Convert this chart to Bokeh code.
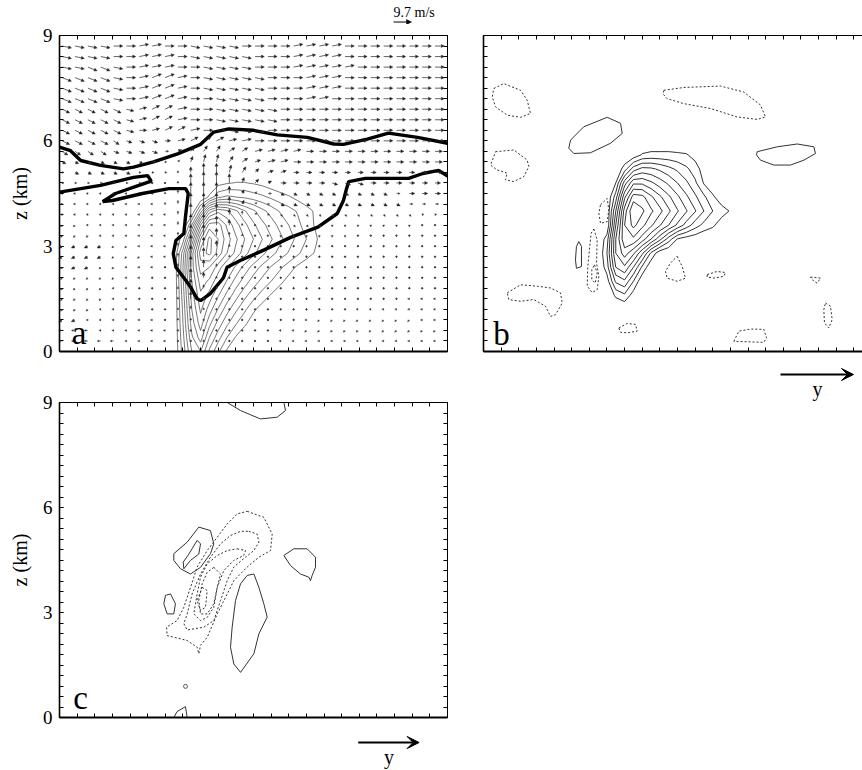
import numpy as np
from bokeh.plotting import figure
from bokeh.models import (LinearAxis, FixedTicker, Arrow, NormalHead, VeeHead,
                          Label, ColumnDataSource, Range1d)
from bokeh.layouts import row, column
from bokeh.embed import file_html
from bokeh.resources import INLINE

SERIF = "Liberation Serif"

# ---------------- axes ----------------
Z_TICK_LABELS = [0, 3, 6, 9]
Z_MINOR = [round(0.3 * k, 1) for k in range(31)]
Y_TICKS = list(range(0, 45, 2))
Y_MAX = 44.0          # horizontal extent (km) of panels a, c
Y_MAX_B = 42.98       # visible part of panel b
Z_MAX = 9.0

# ---------------- panel a: wind vectors ----------------
VEC_REF_MS = 9.7
VEC_REF_TEXT = "9.7 m/s"
ARROW_X0 = 0.306
ARROW_DX = 1.458
ARROW_ROWS_Z = [8.7, 8.4, 8.1, 7.8, 7.5, 7.2, 6.9, 6.6, 6.3, 6.0, 5.7, 5.4, 5.1, 4.8,
                4.5, 4.2, 3.9, 3.6, 3.3, 3.0, 2.7, 2.4, 2.1, 1.8, 1.5, 1.2, 0.9, 0.6, 0.3]
U_A = [
    [5] * 30,
    [5] * 30,
    [5] * 30,
    [5] * 30,
    [5] * 30,
    [5] * 30,
    [4, 4, 4, 4, 4, 4, 4, 4, 4] + [5] * 21,
    [4, 4, 4, 4, 4, 4, 4, 4, 4] + [5] * 21,
    [4, 4, 4, 4, 4, 4, 4, 4, 4, 4] + [5] * 20,
    [4, 4, 4, 4, 3, 3, 3, 3, 3, 4, 4, 4, 4, 4] + [5] * 16,
    [3, 3, 3, 3, 3, 3, 3, 3, 2, 2, 2, 2, 2, 3, 3] + [4] * 15,
    [2, 2, 2, 2, 2, 2, 2, 2, 1, 1, 1, 1, 1, 2, 3, 3] + [4] * 14,
    [1, 2, 2, 2, 2, 2, 1, 1, 1, 0, 0, 0, 0, 1, 2, 2] + [3] * 13 + [4],
    [1, 1, 1, 1, 1, 1, 1, 0, 0, 0, 0, 0, 0, 0, 1, 2, 2] + [3] * 13,
    [0, -1, -1, -1, -1, -1, 0, 0, 0, 0, 0, 0, 0, 0, 1, 1] + [2] * 11 + [3, 3, 3],
    [-1] * 8 + [0, 0, 0, 0, 0, 0, 1, 1, 1] + [2] * 13,
    [-1] * 9 + [0, 0, 0, 0, 0, 0] + [1] * 15,
    [-1] * 9 + [0] * 7 + [1, 1, 1, 1, 1] + [0] * 9,
    [-1] * 9 + [0] * 21,
    [-2, -2, -2, -2, -1, -1, -1, -1, -1] + [0] * 21,
    [-2, -2, -2, -2, -1, -1, -1, -1, -1] + [0] * 21,
    [-1, -2, -2, -1, -1, -1, -1, -1] + [0] * 22,
    [-1] * 7 + [0] * 23,
    [-1] * 6 + [0] * 24,
    [-1] * 6 + [0] * 21 + [-1] * 3,
    [-1] * 7 + [0] * 16 + [-1] * 7,
    [-2, -2, -1, -1, -1, -1, -1, -1] + [0] * 11 + [-1] * 11,
    [-2, -2, -2, -1, -1, -1, -1, -1, -1] + [0] * 8 + [-1] * 13,
    [-2, -2, -2, -2, -2, -1, -1, -1, -1] + [0] * 8 + [-1] * 13,
]
W_A = [
    [-1, -1, -1, -1, 0, 0, 1, 1, 0, 0, -1, -1, -1, -1, 0, 0, 0, 0, 1, 1, 1, 1, 0, 0, 0, 0, 0, 0, 0, 0],
    [-1, -1, -1, -1, 0, 0, 1, 1, 1, 0, -1, -1, -1, -1, -1, 0, 0, 0, 1, 1, 1, 1, 0, 0, 0, 0, 0, 0, 0, 0],
    [-1, -1, -2, -2, -1, 0, 1, 1, 1, 0, 0, -1, -1, -1, -1, 0, 0, 0, 1, 1, 1, 1, 1, 0, 0, 0, 0, 0, 0, 0],
    [-2, -2, -2, -2, -1, 0, 1, 2, 2, 1, 0, -1, -1, -1, -1, -1, 0, 0, 0, 1, 1, 1, 0, 0, 0, 0, 0, 0, 0, 0],
    [-2, -2, -2, -2, -1, 0, 1, 2, 2, 1, 0, -1, -1, -1, -1, -1, 0, 0, 0, 1, 1, 1, 0, 0, 0, 0, 0, 0, 0, 0],
    [-2, -2, -2, -2, -1, 0, 1, 2, 2, 1, 0, 0, -1, -1, -1, -1, 0, 0, 0, 1, 1, 0, 0, 0, 0, 0, 0, 0, 0, 0],
    [-2, -2, -2, -2, -2, -1, 1, 2, 2, 1, 0, 0, -1, -1, -1, -1, -1] + [0] * 13,
    [-2, -2, -2, -2, -2, -1, 1, 2, 2, 1, 0, 0, -1, -1, -1, -1, -1] + [0] * 13,
    [-2, -2, -2, -2, -2, -1, 0, 1, 2, 2, 1, 0, 0, -1, -1, -1] + [0] * 14,
    [-2, -2, -2, -2, -2, -1, -1, -1, 0, 1, 2, 2, 2, 1, 1] + [0] * 15,
    [-2, -2, -2, -2, -1, -1, -1, -1, 0, 1, 2, 3, 3, 2, 2, 1, 1, 1, 1] + [0] * 11,
    [-1, -1, -1, -1, -1, -1, -1, 0, 0, 1, 3, 4, 4, 3, 2, 1, 1, 1] + [0] * 12,
    [0, -1, -1, -1, -1, -1, 0, 0, 0, 1, 3, 5, 5, 4, 3, 2, 1, 1] + [0] * 12,
    [0] * 9 + [1, 5, 6, 6, 5, 3, 2, 1, 0, 0, 0, 0, -1, -1, -1, 0, 0, 0, 0, 0, 0],
    [0] * 8 + [1, 2, 6, 6, 6, 4, 2, 1, 0] + [-1] * 9 + [0] * 4,
    [0] * 8 + [1, 2, 6, 6, 6, 4, 2, 1, 0] + [-1] * 10 + [0] * 3,
    [0] * 9 + [2, 6, 6, 6, 3, 2, 1, 0] + [-1] * 11 + [0] * 2,
    [-1, -1] + [0] * 7 + [2, 6, 6, 5, 3, 1, 0] + [-1] * 12 + [0] * 2,
    [-1, -1, -1] + [0] * 6 + [2, 6, 6, 4, 2, 1, 0, 0] + [-1] * 6 + [0] * 7,
    [-1] * 6 + [0, 0, 0, 2, 6, 5, 3, 1] + [0] * 16,
    [-1] * 7 + [0, 0, 2, 6, 5, 2, 1] + [0] * 16,
    [-1] * 5 + [0, 0, 0, 0, 2, 6, 4, 2] + [0] * 17,
    [-1] * 5 + [0, 0, 0, 0, 2, 5, 3, 1] + [0] * 17,
    [-1] * 4 + [0, 0, 0, 0, 0, 1, 5, 2, 1] + [0] * 17,
    [-1] * 4 + [0, 0, 0, 0, 0, 1, 4, 1] + [0] * 18,
    [-1] * 3 + [0] * 6 + [1, 2, 1] + [0] * 18,
    [-1, -1] + [0] * 7 + [1, 1] + [0] * 9 + [-1] * 8 + [0, 0],
    [0] * 19 + [-1] * 11,
    [0] * 30,
]

# ---------------- panel a: thin contour field (values read as contour counts) ----------------
FA_X = list(range(12, 32))
FA_Z = [0.0, 0.4, 0.8, 1.2, 1.6, 2.0, 2.4, 2.8, 3.2, 3.6, 4.0, 4.4, 4.8, 5.2]
F_A = [
    [0, 0, 2.4, 5.0, 6.0, 3.8, 2.2, 0.8, 0, 0, 0, 0, 0, 0, 0, 0, 0, 0, 0, 0],
    [0, 0, 2.7, 5.8, 7.5, 5.0, 3.4, 2.0, 0.9, 0.2, 0, 0, 0, 0, 0, 0, 0, 0, 0, 0],
    [0, 0, 3.0, 6.5, 8.5, 6.3, 4.6, 3.2, 2.1, 1.2, 0.4, 0, 0, 0, 0, 0, 0, 0, 0, 0],
    [0, 0, 3.2, 7.0, 9.2, 7.5, 5.9, 4.4, 3.2, 2.2, 1.2, 0.5, 0, 0, 0, 0, 0, 0, 0, 0],
    [0, 0, 3.5, 7.5, 9.8, 8.6, 7.1, 5.7, 4.4, 3.3, 2.4, 1.6, 0.9, 0.3, 0, 0, 0, 0, 0, 0],
    [0, 0, 3.8, 8.0, 10.5, 9.8, 8.3, 6.9, 5.6, 4.5, 3.5, 2.7, 2.0, 1.3, 0.6, 0.1, 0, 0, 0, 0],
    [0, 0, 4.0, 8.5, 11.5, 11.0, 9.5, 8.1, 6.8, 5.6, 4.6, 3.7, 2.9, 2.2, 1.5, 0.8, 0.3, 0, 0, 0],
    [0, 0, 3.5, 8.5, 12.5, 13.3, 11.6, 10.0, 8.7, 7.4, 6.3, 5.3, 4.4, 3.6, 2.9, 2.2, 1.5, 0.9, 0.3, 0],
    [0, 0, 1.5, 6.0, 11.0, 13.3, 12.0, 10.5, 9.2, 8.0, 7.0, 6.0, 5.1, 4.3, 3.5, 2.7, 2.0, 1.2, 0.4, 0],
    [0, 0, 0, 3.0, 8.0, 11.5, 11.5, 9.8, 8.4, 7.3, 6.2, 5.3, 4.5, 3.7, 3.0, 2.3, 1.5, 0.9, 0.3, 0],
    [0, 0, 0, 0, 3.5, 7.5, 8.7, 8.2, 7.2, 6.1, 5.2, 4.3, 3.6, 2.9, 2.4, 1.9, 1.4, 0.85, 0.3, 0],
    [0, 0, 0, 0, 0, 1.2, 2.8, 3.2, 3.0, 2.8, 2.5, 2.2, 1.8, 1.4, 1.1, 0.7, 0.3, 0, 0, 0],
    [0, 0, 0, 0, 0, 0, 0.6, 0.9, 1.05, 1.05, 0.9, 0.7, 0.4, 0.2, 0, 0, 0, 0, 0, 0],
    [0] * 20,
]
LEVELS_A = list(range(1, 14))

# ---------------- panel a: thick boundary lines ----------------
UPPER_X = [0, 1.25, 2.4, 4.65, 7.26, 8.4, 10.66, 13.4, 16.0, 17.5, 19.2, 22.0, 24.7, 28.1,
           31.1, 32.2, 34.9, 37.3, 40.6, 44]
UPPER_Z = [5.82, 5.72, 5.44, 5.3, 5.2, 5.25, 5.4, 5.63, 5.9, 6.25, 6.34, 6.3, 6.17, 6.1,
           5.91, 5.9, 6.05, 6.22, 6.1, 5.93]
LOWER_X = [0, 4.65, 8.4, 10.0, 10.4, 9.0, 6.35, 4.9, 6.0, 9.4, 12.4, 14.3, 14.6, 14.3, 14.1,
           13.2, 12.9, 13.2, 14.1, 14.9, 15.6, 16.0, 17.1, 18.6, 19.0, 20.5, 23.1, 26.2, 29.3,
           31.5, 32.2, 32.5, 32.8, 34.7, 39.6, 41.2, 43.0, 44]
LOWER_Z = [4.54, 4.73, 4.96, 5.01, 4.85, 4.73, 4.5, 4.27, 4.3, 4.5, 4.64, 4.64, 4.5, 3.87,
           3.36, 3.16, 2.79, 2.4, 2.1, 1.82, 1.5, 1.45, 1.65, 2.1, 2.4, 2.59, 2.88, 3.25, 3.54,
           3.93, 4.3, 4.59, 4.84, 4.93, 4.93, 5.07, 5.16, 5.0]

# ---------------- panel b: main contour field ----------------
FB_X = list(range(12, 31))
FB_Z = [1.2, 1.6, 2.0, 2.4, 2.8, 3.2, 3.6, 4.0, 4.4, 4.8, 5.2, 5.6, 6.0]
F_B = [
    [0] * 19,
    [0, 0, 0, 1.2, 1.8, 0.5] + [0] * 13,
    [0, 0, 0.5, 3.2, 3.8, 2.0, 0.2] + [0] * 12,
    [0, 0, 1.5, 5.0, 5.8, 4.0, 1.8, 0.2] + [0] * 11,
    [0, 0, 2.0, 6.0, 7.5, 6.2, 4.2, 1.8, 0.3] + [0] * 10,
    [0, 0, 1.5, 6.0, 8.8, 8.8, 7.5, 6.0, 4.3, 2.5, 0.9, 0.5, 0.3, 0, 0, 0, 0, 0, 0],
    [0, 0, 0, 5.0, 9.0, 10.3, 9.3, 8.2, 7.1, 6.0, 4.8, 3.6, 2.5, 1.7, 1.2, 0.4, 0, 0, 0],
    [0, 0, 0, 4.0, 8.5, 11.0, 10.2, 9.2, 8.3, 7.2, 6.1, 5.1, 4.1, 3.0, 2.0, 1.5, 0.9, 0.2, 0],
    [0, 0, 0, 2.5, 6.8, 9.5, 9.3, 8.2, 7.2, 6.2, 5.2, 4.2, 3.2, 2.2, 1.2, 0.3, 0, 0, 0],
    [0, 0, 0, 1.0, 4.5, 6.8, 6.8, 6.2, 5.5, 4.8, 4.0, 3.2, 2.2, 0.9, 0.2, 0, 0, 0, 0],
    [0, 0, 0, 0, 1.5, 3.5, 4.3, 4.2, 3.8, 3.3, 2.8, 2.2, 1.5, 0.5, 0, 0, 0, 0, 0],
    [0, 0, 0, 0, 0, 0.3, 1.1, 1.3, 1.3, 1.3, 1.2, 1.1, 0.6, 0, 0, 0, 0, 0, 0],
    [0] * 19,
]
LEVELS_B = list(range(1, 12))

# panel b: isolated closed contours (x km, z km)
B_NEG = [
    ([1.17, 2.3, 4.2, 4.95, 5.33, 4.2, 2.69, 1.36, 0.99], [7.49, 7.63, 7.44, 7.16, 6.78, 6.67, 6.73, 6.97, 7.25]),
    ([1.36, 3.44, 4.95, 5.14, 4.57, 3.44, 2.49, 2.69, 1.55, 0.79, 1.17], [5.69, 5.74, 5.45, 5.27, 4.98, 4.84, 4.89, 5.08, 5.17, 5.31, 5.55]),
    ([20.45, 22.72, 26.88, 29.52, 31.41, 31.98, 31.04, 28.77, 25.74, 22.72, 20.83, 20.38], [7.44, 7.52, 7.56, 7.39, 7.02, 6.68, 6.61, 6.68, 6.92, 7.06, 7.2, 7.33]),
    ([13.27, 14.03, 14.21, 14.03, 13.27, 13.08], [4.18, 4.36, 4.03, 3.7, 3.65, 3.94]),
    ([12.51, 12.89, 12.82, 13.08, 12.89, 12.32, 11.76, 11.83, 12.05, 12.21], [3.49, 3.18, 2.52, 2.14, 1.76, 1.68, 1.86, 2.43, 2.99, 3.37]),
    ([12.59, 12.89, 12.67, 12.28, 12.28], [2.47, 2.23, 1.95, 2.05, 2.33]),
    ([2.69, 4.2, 6.09, 7.6, 8.73, 8.93, 8.17, 7.6, 7.03, 5.7, 4.2, 2.87], [1.67, 1.9, 1.86, 1.81, 1.67, 1.38, 1.05, 1.0, 1.29, 1.48, 1.43, 1.48]),
    ([21.96, 22.53, 22.91, 21.96, 20.83, 20.64, 21.2], [2.71, 2.42, 2.09, 2.0, 2.09, 2.28, 2.52]),
    ([25.37, 26.5, 27.44, 27.25, 26.12, 25.37], [2.19, 2.28, 2.25, 2.14, 2.09, 2.12]),
    ([37.08, 38.22, 37.84, 37.46], [2.12, 2.09, 1.95, 2.0]),
    ([38.78, 39.35, 39.54, 39.16, 38.67, 38.59], [1.38, 1.29, 0.91, 0.67, 0.81, 1.19]),
    ([15.35, 16.3, 17.24, 17.43, 16.3, 15.54], [0.67, 0.8, 0.77, 0.58, 0.53, 0.55]),
    ([28.39, 28.96, 30.28, 31.79, 32.1, 31.79], [0.29, 0.58, 0.64, 0.63, 0.39, 0.26]),
]
B_POS = [
    ([9.87, 11.37, 14.03, 15.54, 15.73, 14.4, 12.13, 10.24, 9.67], [6.02, 6.4, 6.67, 6.5, 6.21, 5.93, 5.66, 5.64, 5.79]),
    ([31.04, 33.31, 35.58, 37.46, 37.65, 36.33, 34.82, 32.92, 31.41, 30.96], [5.69, 5.83, 5.91, 5.83, 5.64, 5.45, 5.31, 5.31, 5.45, 5.6]),
    ([10.81, 11.11, 11.11, 10.54, 10.43, 10.54], [3.13, 2.99, 2.42, 2.37, 2.61, 2.99]),
]

# ---------------- panel c contours ----------------
C_NEG = [
    ([21.29, 23.17, 24.12, 23.93, 22.61, 21.29, 19.77, 19.02, 17.89, 16.75, 15.99, 15.8, 15.61, 14.48, 12.21, 12.14, 13.34, 14.1, 14.86, 15.61, 16.75, 17.89, 19.02, 20.16],
     [5.89, 5.72, 5.24, 4.77, 4.58, 4.3, 3.91, 3.53, 2.96, 2.29, 2.06, 1.82, 2.01, 2.2, 2.34, 2.58, 2.77, 3.15, 3.72, 4.3, 4.77, 5.15, 5.53, 5.82]),
    ([21.47, 22.42, 22.61, 22.04, 21.09, 19.77, 19.02, 18.26, 17.5, 16.37, 14.48, 14.1, 14.48, 15.04, 15.99, 17.12, 18.26, 19.39, 20.53],
     [5.32, 5.24, 5.01, 4.77, 4.58, 4.3, 3.91, 3.34, 2.77, 2.58, 2.5, 2.68, 2.96, 3.53, 4.1, 4.58, 4.96, 5.2, 5.32]),
    ([20.15, 21.09, 20.9, 19.77, 18.64, 17.89, 17.5, 16.75, 15.99, 15.23, 15.61, 15.99, 16.75, 17.89, 19.02],
     [4.82, 4.77, 4.63, 4.49, 4.2, 3.72, 3.15, 2.86, 2.77, 2.96, 3.53, 4.01, 4.39, 4.63, 4.77]),
    ([17.5, 18.26, 17.89, 17.5, 16.75, 15.99, 15.8, 16.18, 16.75], [4.29, 4.1, 3.72, 3.25, 2.96, 2.96, 3.34, 3.82, 4.15]),
    ([16.18, 16.75, 16.56, 15.99, 15.61], [3.72, 3.63, 3.15, 3.06, 3.34]),
]
C_POS_CLOSED = [
    ([12.96, 14.48, 15.8, 17.12, 17.5, 17.12, 15.99, 14.86, 13.72, 12.96], [4.68, 5.01, 5.44, 5.34, 4.96, 4.68, 4.29, 4.1, 4.25, 4.49]),
    ([15.61, 15.99, 15.8, 14.86, 14.1, 14.03, 14.67], [5.06, 4.96, 4.67, 4.49, 4.25, 4.44, 4.67]),
    ([12.59, 13.15, 12.96, 12.21, 11.83, 12.02], [3.53, 3.25, 2.96, 2.96, 3.25, 3.49]),
    ([22.04, 22.61, 23.17, 23.55, 22.61, 22.04, 20.53, 19.77, 19.39, 19.58, 19.96, 20.53, 21.29],
     [4.1, 3.72, 3.25, 2.87, 2.39, 1.82, 1.29, 1.53, 2.01, 2.58, 3.34, 3.82, 4.06]),
    ([25.44, 26.57, 28.09, 29.03, 29.03, 28.65, 28.46, 28.27, 27.33, 26.2], [4.63, 4.82, 4.82, 4.58, 4.29, 4.06, 3.91, 4.01, 4.1, 4.34]),
]
C_POS_OPEN = [
    ([19.02, 20.53, 22.79, 24.69, 25.63, 25.44], [9.0, 8.77, 8.53, 8.58, 8.77, 9.0]),
    ([12.96, 13.34, 14.29, 14.48], [0.0, 0.17, 0.31, 0.0]),
]
C_RING = ([14.29], [0.89])

# ---------------- layout / style constants ----------------
FRAME_W = 388
FRAME_H = 316
FRAME_H_C = 315
VEC_PX_PER_MS = 18.0 / 9.7
TOP_STRIP = 24


def closed(xs, zs):
    return list(xs) + [xs[0]], list(zs) + [zs[0]]


def mk_axis(ticks, minor=None, labelled=False, lw=1.0):
    ax = LinearAxis(ticker=FixedTicker(ticks=ticks, minor_ticks=minor or []))
    ax.axis_line_width = lw
    ax.axis_line_color = "black"
    ax.major_tick_in = 4
    ax.major_tick_out = 0
    ax.minor_tick_in = 4
    ax.minor_tick_out = 0
    ax.major_tick_line_color = "black"
    ax.minor_tick_line_color = "black"
    if labelled:
        ax.major_label_text_font = SERIF
        ax.major_label_text_font_size = "19px"
        ax.major_label_text_color = "black"
        ax.major_label_standoff = 7
    else:
        ax.major_label_text_color = None
        ax.major_label_standoff = 0
    return ax


def base_fig(width, height, xmax, left, right, top, bottom):
    p = figure(width=width, height=height, x_range=Range1d(0, xmax), y_range=Range1d(0, Z_MAX),
               min_border_left=left, min_border_right=right, min_border_top=top,
               min_border_bottom=bottom, x_axis_type=None, y_axis_type=None,
               toolbar_location=None, output_backend="svg", outline_line_color=None,
               background_fill_color="white", border_fill_color="white")
    p.grid.visible = False
    return p


def spacer(width, height):
    s = figure(width=width, height=height, x_range=Range1d(0, width), y_range=Range1d(height, 0),
               min_border=0, x_axis_type=None, y_axis_type=None, toolbar_location=None,
               output_backend="svg", outline_line_color=None)
    s.grid.visible = False
    return s


def add_frame(p, labelled_left, with_right=True):
    if labelled_left:
        la = mk_axis(Z_TICK_LABELS, Z_MINOR, labelled=True, lw=1.6)
        la.axis_label = "z (km)"
        la.axis_label_text_font = SERIF
        la.axis_label_text_font_size = "20px"
        la.axis_label_text_font_style = "normal"
        la.axis_label_text_color = "black"
        la.axis_label_standoff = 9
    else:
        la = mk_axis(Z_MINOR, None, labelled=False, lw=1.6)
    p.add_layout(la, "left")
    p.add_layout(mk_axis(Y_TICKS, None, lw=1.8), "below")
    p.add_layout(mk_axis(Y_TICKS, None, lw=1.2), "above")
    if with_right:
        p.add_layout(mk_axis(Z_MINOR, None, lw=1.0), "right")


def panel_label(p, x, z, t):
    p.add_layout(Label(x=x, y=z, text=t, text_font=SERIF, text_font_size="33px",
                       text_baseline="middle", text_align="left", text_color="black"))


def direction_arrow(s, x0, x1, ya, xl, yl):
    s.add_layout(Arrow(end=VeeHead(size=12, line_color="black", fill_color="black"),
                       x_start=x0, y_start=ya, x_end=x1, y_end=ya, line_color="black", line_width=2))
    s.add_layout(Label(x=xl, y=yl, text="y", text_font=SERIF, text_font_size="20px",
                       text_baseline="middle", text_align="center", text_color="black"))


# ================= top strip: reference vector =================
kx = VEC_PX_PER_MS * Y_MAX / FRAME_W
kz = VEC_PX_PER_MS * Z_MAX / FRAME_H
top = spacer(862, TOP_STRIP)
top.add_layout(Label(x=393, y=12, text=VEC_REF_TEXT, text_font=SERIF, text_font_size="14px",
                     text_baseline="middle", text_align="left", text_color="black"))
ref_len_px = VEC_REF_MS * VEC_PX_PER_MS
top.add_layout(Arrow(end=NormalHead(size=5, line_color="black", fill_color="black", line_width=0.5),
                     x_start=393, y_start=21.5, x_end=393 + ref_len_px, y_end=21.5,
                     line_color="black", line_width=1.0))

# ================= panel a =================
pa = base_fig(465, 342, Y_MAX, 59, 18, 35 - TOP_STRIP, 15)
add_frame(pa, True)

long_src = dict(x0=[], y0=[], x1=[], y1=[])
short_src = dict(x0=[], y0=[], x1=[], y1=[])
dotx, dotz = [], []
for r, zc in enumerate(ARROW_ROWS_Z):
    n = min(len(U_A[r]), len(W_A[r]))
    for c in range(n):
        xc = ARROW_X0 + ARROW_DX * c
        u, w = U_A[r][c], W_A[r][c]
        if u == 0 and w == 0:
            dotx.append(xc)
            dotz.append(zc)
            continue
        d = long_src if (u * u + w * w) > 4.5 else short_src
        d["x0"].append(xc)
        d["y0"].append(zc)
        d["x1"].append(xc + u * kx)
        d["y1"].append(zc + w * kz)
pa.add_layout(Arrow(end=NormalHead(size=3, line_color="#222222", fill_color="#222222", line_width=0.4),
                    x_start="x0", y_start="y0", x_end="x1", y_end="y1",
                    source=ColumnDataSource(long_src), line_color="#222222", line_width=0.7))
pa.add_layout(Arrow(end=NormalHead(size=2, line_color="#333333", fill_color="#333333", line_width=0.3),
                    x_start="x0", y_start="y0", x_end="x1", y_end="y1",
                    source=ColumnDataSource(short_src), line_color="#333333", line_width=0.6))
pa.scatter(dotx, dotz, size=1.4, color="#333333", marker="circle")

pa.contour(x=np.array(FA_X, dtype=float), y=np.array(FA_Z), z=np.array(F_A), levels=LEVELS_A,
           line_color="#555555", line_width=0.8)
pa.line(UPPER_X, UPPER_Z, line_color="black", line_width=3.4)
pa.line(LOWER_X, LOWER_Z, line_color="black", line_width=3.4)
panel_label(pa, 1.4, 0.53, "a")

# ================= panel b =================
pb = base_fig(397, 342, Y_MAX_B, 18, 0, 35 - TOP_STRIP, 15)
add_frame(pb, False, with_right=False)
pb.contour(x=np.array(FB_X, dtype=float), y=np.array(FB_Z), z=np.array(F_B), levels=LEVELS_B,
           line_color="#333333", line_width=1.0)
bn = [closed(xs, zs) for xs, zs in B_NEG]
pb.multi_line([b[0] for b in bn], [b[1] for b in bn], line_color="#333333", line_width=1.0,
              line_dash="2 2")
bp = [closed(xs, zs) for xs, zs in B_POS]
pb.multi_line([b[0] for b in bp], [b[1] for b in bp], line_color="#333333", line_width=1.0)
panel_label(pb, 1.1, 0.5, "b")

# ================= panel c =================
pc = base_fig(465, 363, Y_MAX, 59, 18, 36, 12)
add_frame(pc, True)
cn = [closed(xs, zs) for xs, zs in C_NEG]
pc.multi_line([c[0] for c in cn], [c[1] for c in cn], line_color="#333333", line_width=1.0,
              line_dash="2 2")
cp = [closed(xs, zs) for xs, zs in C_POS_CLOSED]
pc.multi_line([c[0] for c in cp] + [c[0] for c in C_POS_OPEN],
              [c[1] for c in cp] + [c[1] for c in C_POS_OPEN], line_color="#333333", line_width=1.0)
pc.scatter(C_RING[0], C_RING[1], size=4, marker="circle", fill_color=None, line_color="#333333",
           line_width=0.8)
panel_label(pc, 1.55, 0.56, "c")

# strip under panel c (page y 729..770)
pcb = spacer(465, 41)
direction_arrow(pcb, 358, 431, 13, 395, 27)

# strip under panel b (page y 366..)
sp = spacer(397, 404)
direction_arrow(sp, 315, 388, 8, 352, 22)

layout = column(top, row(pa, pb), row(column(pc, pcb), sp))
open("out.html", "w").write(file_html(layout, INLINE))
